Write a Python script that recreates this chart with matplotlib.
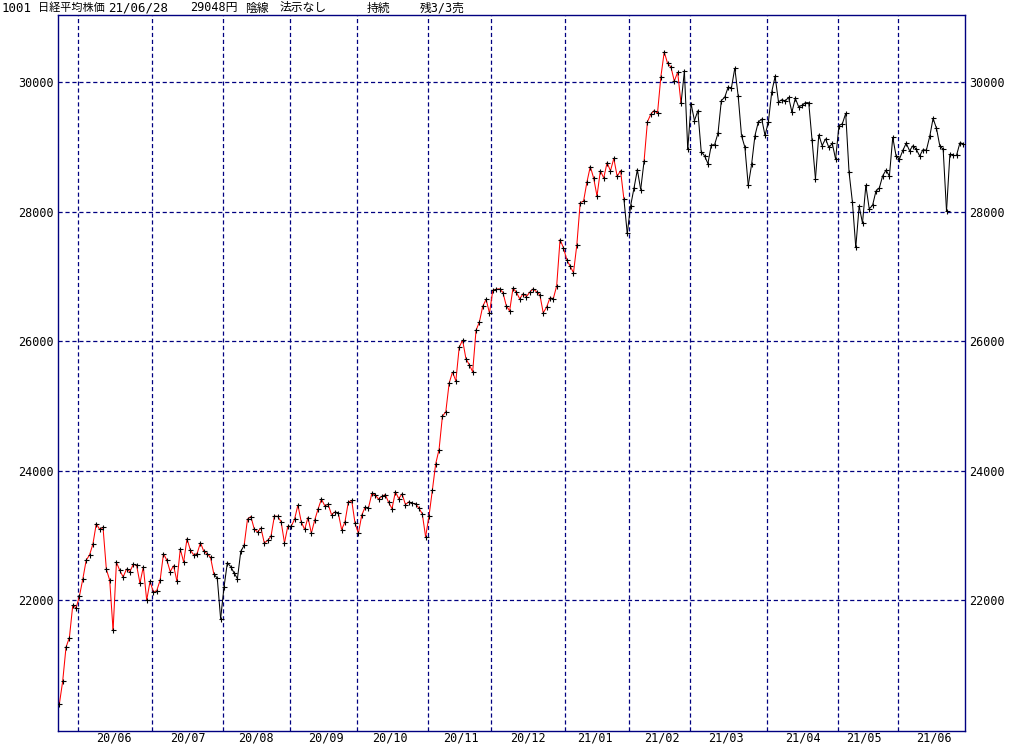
import matplotlib
matplotlib.use("Agg")
import matplotlib.pyplot as plt
from matplotlib.collections import LineCollection
import numpy as np

# trading days, one list of day numbers per month
months = ["2020-05", "2020-06", "2020-07", "2020-08", "2020-09", "2020-10", "2020-11",
          "2020-12", "2021-01", "2021-02", "2021-03", "2021-04", "2021-05", "2021-06"]
days = [
    [22, 25, 26, 27, 28, 29],
    [1, 2, 3, 4, 5, 8, 9, 10, 11, 12, 15, 16, 17, 18, 19, 22, 23, 24, 25, 26, 29, 30],
    [1, 2, 3, 6, 7, 8, 9, 10, 13, 14, 15, 16, 17, 20, 21, 22, 27, 28, 29, 30, 31],
    [3, 4, 5, 6, 7, 11, 12, 13, 14, 17, 18, 19, 20, 21, 24, 25, 26, 27, 28, 31],
    [1, 2, 3, 4, 7, 8, 9, 10, 11, 14, 15, 16, 17, 18, 23, 24, 25, 28, 29, 30],
    [2, 5, 6, 7, 8, 9, 12, 13, 14, 15, 16, 19, 20, 21, 22, 23, 26, 27, 28, 29, 30],
    [2, 4, 5, 6, 9, 10, 11, 12, 13, 16, 17, 18, 19, 20, 24, 25, 26, 27, 30],
    [1, 2, 3, 4, 7, 8, 9, 10, 11, 14, 15, 16, 17, 18, 21, 22, 23, 24, 25, 28, 29, 30],
    [4, 5, 6, 7, 8, 12, 13, 14, 15, 18, 19, 20, 21, 22, 25, 26, 27, 28, 29],
    [1, 2, 3, 4, 5, 8, 9, 10, 12, 15, 16, 17, 18, 19, 22, 24, 25, 26],
    [1, 2, 3, 4, 5, 8, 9, 10, 11, 12, 15, 16, 17, 18, 19, 22, 23, 24, 25, 26, 29, 30, 31],
    [1, 2, 5, 6, 7, 8, 9, 12, 13, 14, 15, 16, 19, 20, 21, 22, 23, 26, 27, 28, 30],
    [6, 7, 10, 11, 12, 13, 14, 17, 18, 19, 20, 21, 24, 25, 26, 27, 28, 31],
    [1, 2, 3, 4, 7, 8, 9, 10, 11, 14, 15, 16, 17, 18, 21, 22, 23, 24, 25, 28],
]

closes = [
    # 2020/05
    20388, 20742, 21271, 21419, 21916, 21878,
    # 2020/06
    22062, 22326, 22614, 22696, 22864, 23178, 23091, 23125, 22473, 22305, 21531,
    22582, 22456, 22355, 22479, 22437, 22549, 22534, 22260, 22512, 21995, 22288,
    # 2020/07
    22122, 22146, 22306, 22714, 22615, 22439, 22529, 22291, 22785, 22587, 22946,
    22770, 22696, 22717, 22884, 22752, 22716, 22657, 22397, 22339, 21710,
    # 2020/08
    22195, 22574, 22515, 22418, 22330, 22750, 22844, 23250, 23289, 23097, 23051,
    23111, 22881, 22920, 22986, 23297, 23291, 23209, 22883, 23140,
    # 2020/09
    23138, 23247, 23466, 23205, 23090, 23274, 23033, 23235, 23406, 23559, 23455,
    23476, 23319, 23360, 23346, 23088, 23205, 23512, 23539, 23185,
    # 2020/10
    23030, 23312, 23434, 23423, 23647, 23620, 23559, 23602, 23627, 23507, 23411,
    23671, 23567, 23639, 23474, 23517, 23494, 23486, 23419, 23332, 22977,
    # 2020/11
    23295, 23695, 24105, 24325, 24840, 24906, 25350, 25521, 25386, 25907, 26015,
    25728, 25634, 25527, 26166, 26297, 26537, 26645, 26434,
    # 2020/12
    26788, 26801, 26809, 26751, 26547, 26467, 26818, 26756, 26653, 26732, 26688,
    26757, 26807, 26763, 26714, 26436, 26525, 26668, 26657, 26854, 27568, 27444,
    # 2021/01
    27258, 27159, 27056, 27490, 28139, 28164, 28457, 28698, 28519, 28242, 28633,
    28523, 28757, 28631, 28822, 28546, 28635, 28197, 27663,
    # 2021/02
    28091, 28362, 28647, 28342, 28779, 29389, 29506, 29563, 29520, 30084, 30468,
    30292, 30236, 30018, 30156, 29672, 30168, 28966,
    # 2021/03
    29664, 29408, 29559, 28930, 28864, 28743, 29028, 29037, 29212, 29718, 29767,
    29921, 29914, 30217, 29792, 29174, 28996, 28406, 28730, 29177, 29385, 29433, 29179,
    # 2021/04
    29389, 29854, 30089, 29697, 29731, 29709, 29768, 29539, 29752, 29621, 29643,
    29683, 29685, 29100, 28509, 29188, 29021, 29126, 28992, 29054, 28813,
    # 2021/05
    29331, 29358, 29518, 28609, 28148, 27448, 28084, 27825, 28407, 28044, 28098,
    28318, 28365, 28554, 28642, 28549, 29149, 28860,
    # 2021/06
    28814, 28946, 29058, 28942, 29019, 28964, 28861, 28959, 28949, 29162, 29441,
    29291, 29018, 28964, 28011, 28884, 28875, 28875, 29066, 29048,
]

# segments drawn black (start index ranges), the rest red
black_runs = [(46, 55), (168, 174), (185, 269)]

y_ticks = [22000, 24000, 26000, 28000, 30000]

# header pieces: text, x pixel, font size
title_parts = [("1001", 2, 9), ("日経平均株価", 38, 8), ("21/06/28", 108, 9),
               ("29048円", 190, 8.5), ("陰線", 245, 8.5), ("法示なし", 280, 8.5),
               ("持続", 367, 8.5), ("残3/3売", 420, 8.5)]

NAVY = "#000080"
FONT = ["DejaVu Sans Mono", "Noto Sans CJK JP"]

plt.rcParams["font.family"] = FONT
plt.rcParams["lines.scale_dashes"] = False

month_of = []
day_of = []
for m, ds in zip(months, days):
    for d in ds:
        month_of.append(m)
        day_of.append(d)
n = len(closes)
x = np.arange(n)

# month boundaries and mid-month labels
starts = [i for i in range(1, n) if month_of[i] != month_of[i - 1]]
lab_pos = []
lab_txt = []
for s in starts:
    m = month_of[s]
    mid = [i for i in range(s, n) if month_of[i] == m and day_of[i] >= 15]
    lab_pos.append(mid[0] + 0.4)
    lab_txt.append(m[2:4] + "/" + m[5:7])

fig = plt.figure(figsize=(10.24, 7.45), dpi=100)
ax = fig.add_axes([58 / 1024, 1 - 730.5 / 745, 907 / 1024, 716 / 745])

for yv in y_ticks:
    ax.axhline(yv, color=NAVY, lw=0.9, dashes=(3, 2), zorder=1)
for s in starts:
    ax.axvline(s - 0.4, color=NAVY, lw=0.9, dashes=(3, 2), zorder=1)

pts = np.column_stack([x, closes])
segs = np.stack([pts[:-1], pts[1:]], axis=1)
cols = ["#ff0000"] * (n - 1)
for a, b in black_runs:
    for k in range(a, min(b, n - 1)):
        cols[k] = "#000000"
ax.add_collection(LineCollection(segs, colors=cols, linewidths=0.75, zorder=2))
ax.plot(x, closes, ls="none", marker="+", ms=3.6, mew=0.8, color="black", zorder=3)

ax.set_xlim(-0.39, 269.5)
ax.set_ylim(19983, 31047)

ax.set_yticks(y_ticks)
ax.set_yticklabels([str(v) for v in y_ticks])
ax.tick_params(axis="y", length=0, pad=3, labelsize=8.5, labelleft=True, labelright=True)
ax.set_xticks(lab_pos)
ax.set_xticklabels(lab_txt)
ax.tick_params(axis="x", length=0, pad=1, labelsize=8.5)

for sp in ax.spines.values():
    sp.set_color(NAVY)
    sp.set_linewidth(1.0)

for txt, px, fs in title_parts:
    fig.text(px / 1024, 1 - 8 / 745, txt, fontsize=fs, va="center", ha="left")

fig.savefig("out.png", dpi=100, facecolor="white")
